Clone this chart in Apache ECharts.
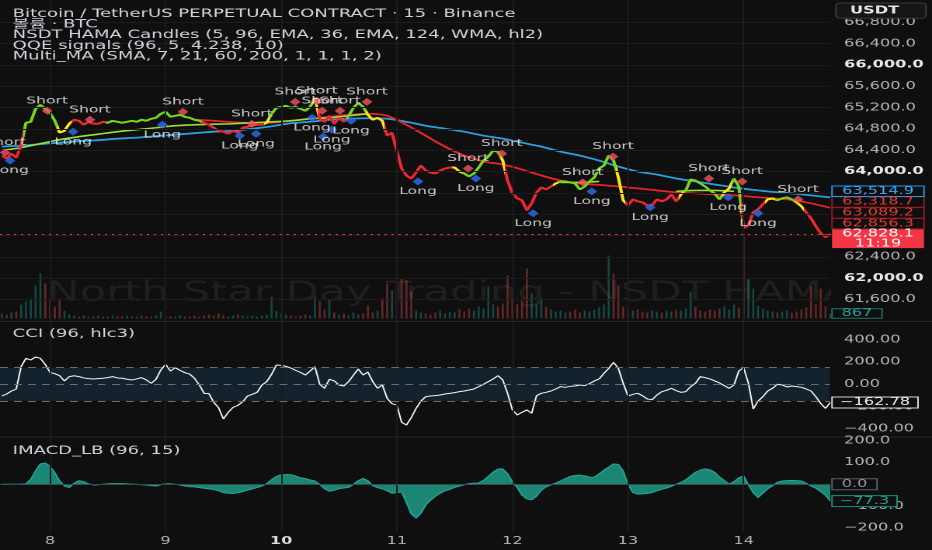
<!DOCTYPE html>
<html><head><meta charset="utf-8">
<script src="https://cdn.jsdelivr.net/npm/echarts@6/dist/echarts.min.js"></script>
<style>
html,body{margin:0;padding:0;background:#0f0f0f;overflow:hidden;width:932px;height:550px;}
#chart{width:600px;height:550px;transform:scaleX(1.553333);transform-origin:0 0;}
</style></head><body><div id="chart"></div>
<script>
// ---------------- data ----------------
// hourly samples, hours relative to day 8 00:00
const startHour = -10;
const price = [
64299,64243,64336,64261,64485,64915,64933,65176,65251,65176,
65101,64952,64728,64765,64896,64971,64952,64877,64933,64896,
64896,64933,64915,64952,64933,64915,64933,64952,64933,64971,
64952,64989,65008,65083,65120,65027,65045,65064,65027,65008,
64971,64952,64915,64877,64821,64765,64747,64709,64765,64728,
64821,64840,64859,64877,64877,64915,65083,65195,65213,65232,
65195,65213,65176,65139,65213,65381,64989,64933,65045,64896,
65008,64933,65045,65195,65288,65213,65064,64971,65008,64952,
64672,64728,64392,64056,63925,63869,63981,64112,64019,63981,
63963,64019,64056,64075,64075,64000,63963,63907,63963,64075,
64205,64280,64392,64373,64205,63832,63589,63496,63459,63272,
63403,63608,63701,63664,63720,63776,63813,63813,63795,63776,
63664,63720,63813,63888,64056,64112,64299,64205,63888,63459,
63365,63477,63440,63421,63365,63365,63477,63440,63477,63571,
63440,63571,63645,63851,63832,63776,63720,63645,63589,63477,
63608,63683,63869,63720,62936,62992,63235,63291,63384,63477,
63496,63459,63496,63515,63477,63421,63347,63235,63123,62973,
62843,62768,62828.1];
// HAMA candle colour state runs (G green, Y yellow, R red), hourly
const hamaRuns = [['R',5],['G',7],['Y',3],['R',7],['G',20],['R',13],['Y',1],['G',9],['Y',1],['R',6],
['G',4],['Y',4],['R',14],['Y',2],['G',8],['Y',1],['R',10],['Y',1],['G',12],['Y',2],['R',11],['Y',1],
['G',8],['Y',2],['G',2],['R',5],['Y',2],['G',4],['Y',2],['R',6]];
const volume = [
870,690,1040,1210,2430,2950,3470,5720,7800,6070,
3470,2080,3470,1390,690,520,350,520,350,350,
520,350,350,520,350,350,520,350,350,520,
350,350,520,1210,520,350,350,520,350,350,
520,350,520,690,520,870,520,350,520,690,
520,350,520,350,520,690,3810,1390,870,690,
520,350,520,690,520,3810,2950,1560,3120,1040,
690,870,520,1040,690,870,2250,1040,1390,3470,
6070,4850,5550,6930,6590,4680,1390,1040,870,690,
1040,1390,870,1210,1040,1560,1210,1730,1390,2080,
1730,5550,2430,2080,2600,7450,3470,2430,3120,8670,
4330,2430,3470,2080,1560,1210,1390,1040,1210,1560,
1040,1390,1210,1560,1910,2430,10920,7800,5720,2080,
1730,1390,1560,1210,1040,1390,1210,1040,1390,1210,
1560,1390,1730,4680,2080,1390,1210,1560,1390,1730,
2080,1560,2430,1910,14730,6930,5200,2250,1730,1390,
1210,1040,1210,1390,1040,1210,1560,1910,5550,2430,
5200,2080,867];
const cci = [
-105,-87,-60,-42,158,233,218,245,233,179,
107,95,77,30,69,77,69,57,51,48,
51,54,60,69,57,54,45,39,48,60,
39,9,45,128,179,119,149,125,104,92,
54,-6,-81,-84,-162,-210,-311,-251,-207,-189,
-156,-105,-90,-72,-6,24,89,173,170,161,
146,125,107,83,119,158,0,-36,45,30,
-6,-15,24,83,137,83,110,24,-36,-6,
-126,-174,-186,-341,-365,-299,-216,-150,-111,-105,
-102,-96,-87,-81,-75,-66,-60,-51,-42,-21,
0,24,48,77,39,-81,-230,-275,-251,-230,
-260,-102,-81,-72,-60,-42,-21,-27,-18,-15,
-6,-12,6,30,48,98,143,197,143,9,
-105,-90,-81,-102,-132,-138,-96,-66,-54,-36,
-57,-72,-66,-21,9,69,60,48,30,12,
-12,-36,-6,119,149,9,-221,-150,-111,-60,
-36,0,-6,-24,-15,-21,-27,-42,-60,-111,
-171,-216,-162.78];
const imacd = [
0,0,0,0,1,2,23,61,94,98,
83,53,15,-8,-15,5,17,12,2,-3,
-2,0,2,3,3,3,2,0,0,-2,
-3,-6,-8,-2,3,2,0,-3,-8,-11,
-12,-15,-18,-21,-24,-30,-38,-41,-42,-39,
-33,-27,-21,-15,-8,3,21,36,44,45,
44,38,30,26,20,15,0,-21,-32,-27,
-20,-17,-14,0,17,27,17,-6,-15,-21,
-30,-41,-38,-35,-83,-136,-155,-133,-95,-73,
-55,-41,-30,-23,-14,-8,-2,3,5,6,
18,36,56,70,71,48,12,-15,-50,-67,
-71,-55,-27,-12,-2,5,15,26,36,41,
42,39,33,32,48,65,79,94,91,61,
0,-38,-45,-44,-42,-38,-30,-23,-17,-9,
0,9,21,38,55,65,71,67,55,33,
17,0,12,30,39,-3,-38,-61,-41,-21,
-6,9,15,17,18,17,15,5,-8,-18,
-33,-50,-77.3];
// moving averages, 4-hour samples from hour -10
const maStartHour = -10, maStep = 4;
const maSlow = [64467,64485,64513,64541,64569,64588,64616,64635,64663,64691,
64719,64747,64765,64803,64849,64906,64933,64971,64989,64999,
64989,64933,64859,64803,64747,64672,64616,64541,64467,64373,
64299,64205,64093,64000,63944,63869,63813,63757,63701,63655,
63617,63589,63552,63514.9];
const maMid = [null,null,null,null,null,null,null,null,null,null,
64971,64952,64924,64915,64915,64952,64989,65027,65064,65083,
65045,64877,64672,64467,64299,64187,64131,64037,63925,63832,
63776,63748,63720,63683,63645,63608,63589,63571,63552,63524,
63496,63468,63403,63318.7];
const maFast = [64392,64448,64523,64597,64653,64700,64747,64784,64821,64859,
64877,64887,64896,64915,64933,64952,64989,65008,65045,65083,
null,null,null,null,null,null,null,null,null,63795,
63795,63813,null,null,null,63627,63645,63645,63627,null,
null,null,null,null];
const otherMaLast = [63089.2, 62856.3];
const countdown = '11:19';
// QQE signals [hour, price]
const shortSignals = [[-9.3,64355],[-0.6,65139],[8.3,64971],[27.6,65120],[41.9,64896],[50.9,65307],
[55.4,65326],[56.5,65139],[60.2,65139],[65.8,65307],[86.8,64056],[93.8,64336],[110.6,63795],
[116.9,64280],[136.8,63869],[143.7,63813],[155.3,63477]];
const longSignals = [[-8.3,64205],[4.8,64747],[23.3,64877],[39.4,64672],[42.8,64709],[54.4,65008],
[56.7,64653],[58.5,64784],[62.5,64952],[76.4,63813],[88.4,63869],[100.3,63216],[112.5,63627],
[124.6,63328],[140.8,63515],[147.0,63216]];
// axes
const dayTicks = [0,24,48,72,96,120,144];
const dayLabels = ['8','9','10','11','12','13','14'];
const priceTicks = [61600,62000,62400,62800,63200,63600,64000,64400,64800,65200,65600,66000,66400,66800];
const cciTicks = [-400,-200,0,200,400];
const cciBand = [-150,150];
const imacdTicks = [-200,-100,0,100,200];
// texts
const legendLines = ['Bitcoin / TetherUS PERPETUAL CONTRACT · 15 · Binance','볼륨 · BTC',
'NSDT HAMA Candles (5, 96, EMA, 36, EMA, 124, WMA, hl2)','QQE signals (96, 5, 4.238, 10)',
'Multi_MA (SMA, 7, 21, 60, 200, 1, 1, 1, 2)'];
const cciTitle = 'CCI (96, hlc3)';
const imacdTitle = 'IMACD_LB (96, 15)';
const watermark = 'North Star Day Trading - NSDT HAMA';
const currency = 'USDT';

// ---------------- layout / style ----------------
const S = 932/600;
const px = v => v / S;
const FONT = '"DejaVu Sans", "Noto Sans CJK KR", sans-serif';
const BG = '#0f0f0f';
const AX = '#b2b5be';
const xMin = -10.38, xMax = 161.94;
const plotRight = 600 - px(830);
const series2 = (start, step, arr) => arr.map((v,i) => [start + i*step, v]);
const fmtPrice = v => v.toLocaleString('en-US',{minimumFractionDigits:1,maximumFractionDigits:1});
const minus = s => s.replace('-', '\u2212');

const trendColors = {G:'#74d61f', Y:'#ffe61a', R:'#ef2731'};
const pieces = []; let idx = 0;
hamaRuns.forEach(([s,n]) => {
  pieces.push({gte: startHour+idx-0.5, lt: startHour+idx+n-0.5, color: trendColors[s]});
  idx += n;
});

const volData = volume.map((v,i) => ({value:[startHour+i, v],
  itemStyle:{color: (i===0 || price[i] >= price[i-1]) ? 'rgba(38,166,154,0.38)' : 'rgba(239,83,80,0.38)'}}));

const gl = {color:'#1c1c1c', width:1, type:'solid'};
const mkGrid = (xi, yi, extra) => ({type:'line', xAxisIndex:xi, yAxisIndex:yi, data:[], z:0, silent:true,
  markLine:{silent:true, symbol:'none', animation:false, label:{show:false}, lineStyle:gl,
    data: dayTicks.map(h => ({xAxis:h})).concat(extra||[])}});

const axisCommon = (gi, show) => ({type:'value', gridIndex:gi, min:xMin, max:xMax, axisLine:{show:false},
  axisTick:{show:false}, splitLine:{show:false},
  axisLabel: show ? {show:true, customValues: dayTicks, margin:4.3, color:AX, fontSize:10.4, fontFamily:FONT,
    formatter: v => { const l = dayLabels[dayTicks.indexOf(v)]; return l === '10' ? '{b|'+l+'}' : l; },
    rich:{b:{fontWeight:'bold', color:'#d8dbe2', fontSize:10.4, fontFamily:FONT}}} : {show:false}});

const yLab = (ticks, fmt, rich) => ({customValues: ticks, margin: px(844)-px(830), color:AX, fontSize:10.4,
  fontFamily:FONT, formatter: fmt, rich: rich || {}});

const priceGridSeries = mkGrid(0,0, priceTicks.map(v => ({yAxis:v})));
const cciGridSeries = mkGrid(2,2, []);
cciGridSeries.markArea = {silent:true, itemStyle:{color:'#13222c'}, data:[[{yAxis:cciBand[0]},{yAxis:cciBand[1]}]]};
const cciDash = {type:'line', xAxisIndex:2, yAxisIndex:2, data:[], z:1, silent:true,
  markLine:{silent:true, symbol:'none', animation:false, label:{show:false},
    lineStyle:{color:'#6a6d78', type:[5,4], width:1}, data:[{yAxis:cciBand[1]},{yAxis:0},{yAxis:cciBand[0]}]}};
const imacdGridSeries = mkGrid(3,3, []);
const imacdZero = {type:'line', xAxisIndex:3, yAxisIndex:3, data:[], z:1, silent:true,
  markLine:{silent:true, symbol:'none', animation:false, label:{show:false},
    lineStyle:{color:'#2f4f4a', width:1, type:'solid'}, data:[{yAxis:0}]}};

const PRICE_IDX = 5;
const option = {
  backgroundColor: BG,
  animation: false,
  title: {text: legendLines.join('\n'), left: px(12.7), top: 8.4, padding: 0,
    textStyle:{fontSize:11.6, lineHeight:10.7, color:'#d1d4dc', fontWeight:'normal', fontFamily:FONT}},
  grid: [
    {left:0, right:plotRight, top:0, height:321},
    {left:0, right:plotRight, top:220.5, height:98},
    {left:0, right:plotRight, top:322, height:115},
    {left:0, right:plotRight, top:437, height:95}
  ],
  xAxis: [axisCommon(0,false), axisCommon(1,false), axisCommon(2,false), axisCommon(3,true)],
  yAxis: [
    {type:'value', gridIndex:0, position:'right', min:61195, max:67218, z:10,
      axisLine:{show:false}, axisTick:{show:false}, splitLine:{show:false},
      axisLabel: yLab(priceTicks, v => v % 2000 === 0 ? '{b|'+fmtPrice(v)+'}' : fmtPrice(v),
        {b:{fontWeight:'bold', color:'#e6e8ee', fontSize:10.4, fontFamily:FONT}})},
    {type:'value', gridIndex:1, min:0, max:17000, show:false},
    {type:'value', gridIndex:2, position:'right', min:-472.6, max:558.7, z:10,
      axisLine:{show:false}, axisTick:{show:false}, splitLine:{show:false},
      axisLabel: yLab(cciTicks, v => minus(v.toFixed(2)))},
    {type:'value', gridIndex:3, position:'right', min:-218.8, max:217, z:10,
      axisLine:{show:false}, axisTick:{show:false}, splitLine:{show:false},
      axisLabel: yLab(imacdTicks, v => minus(v.toFixed(1)))}
  ],
  visualMap: {type:'piecewise', show:false, seriesIndex: PRICE_IDX, dimension:0, pieces: pieces},
  series: [
    priceGridSeries,                                   //0
    {type:'bar', xAxisIndex:1, yAxisIndex:1, data: volData, barWidth:1.3, z:1, silent:true}, //1
    {type:'line', xAxisIndex:0, yAxisIndex:0, data: series2(maStartHour, maStep, maSlow), showSymbol:false,
      lineStyle:{color:'#2a9fe0', width:1.8}, z:3, smooth:0.3}, //2
    {type:'line', xAxisIndex:0, yAxisIndex:0, data: series2(maStartHour, maStep, maMid), showSymbol:false,
      lineStyle:{color:'#e5232b', width:1.8}, z:3, smooth:0.3}, //3
    {type:'line', xAxisIndex:0, yAxisIndex:0, data: series2(maStartHour, maStep, maFast), showSymbol:false,
      connectNulls:false, lineStyle:{color:'#9be03a', width:1.6}, z:3, smooth:0.3}, //4
    {type:'line', xAxisIndex:0, yAxisIndex:0, data: series2(startHour, 1, price), showSymbol:false,
      lineStyle:{width:2}, z:4,
      markLine:{silent:true, symbol:'none', animation:false, label:{show:false},
        lineStyle:{color:'#f23645', type:[1.5,3], width:1}, data:[{yAxis: price[price.length-1]}]}}, //5
    {type:'scatter', xAxisIndex:0, yAxisIndex:0, data: shortSignals, symbol:'diamond', symbolSize:[7,8],
      itemStyle:{color:'#f3525d'}, z:6,
      label:{show:true, position:'top', distance:1, formatter:'Short', color:'#f2f2f2', fontSize:10, fontFamily:FONT}}, //6
    {type:'scatter', xAxisIndex:0, yAxisIndex:0, data: longSignals, symbol:'diamond', symbolSize:[7,8],
      itemStyle:{color:'#2f6cf0'}, z:6,
      label:{show:true, position:'bottom', distance:1, formatter:'Long', color:'#f2f2f2', fontSize:10, fontFamily:FONT}}, //7
    cciGridSeries, cciDash,
    {type:'line', xAxisIndex:2, yAxisIndex:2, data: series2(startHour, 1, cci), showSymbol:false,
      lineStyle:{color:'#f4f4f4', width:1}, z:3},
    imacdGridSeries, imacdZero,
    {type:'line', xAxisIndex:3, yAxisIndex:3, data: series2(startHour, 1, imacd), showSymbol:false,
      lineStyle:{color:'#26a69a', width:1}, areaStyle:{color:'#1d9380', opacity:0.9, origin:0}, z:3}
  ]
};

const chart = echarts.init(document.getElementById('chart'), null, {renderer:'canvas', devicePixelRatio:2});
chart.setOption(option);

// ---------------- overlay texts / value tags ----------------
const baseGraphics = [
  {type:'line', shape:{x1:0,y1:321.5,x2:600,y2:321.5}, style:{stroke:'#262626', lineWidth:1}, z:5, silent:true},
  {type:'line', shape:{x1:0,y1:437,x2:600,y2:437}, style:{stroke:'#262626', lineWidth:1}, z:5, silent:true},
  {type:'text', x:px(47), y:293, z:0, silent:true,
    style:{text: watermark, fontSize:28, fontFamily:FONT, fill:'rgba(255,255,255,0.07)', verticalAlign:'middle'}},
  {type:'rect', shape:{x:px(831), y:262, width:600-px(831), height:58}, style:{fill:BG}, z:1, silent:true},
  {type:'text', x:px(12.7), y:334, z:5, style:{text: cciTitle, fontSize:11.6, fontFamily:FONT, fill:'#d1d4dc', verticalAlign:'middle'}},
  {type:'text', x:px(12.7), y:451, z:5, style:{text: imacdTitle, fontSize:11.6, fontFamily:FONT, fill:'#d1d4dc', verticalAlign:'middle'}},
  {type:'group', x:px(836), y:3, z:20, children:[
    {type:'rect', shape:{x:0,y:0,width:px(90),height:15.3,r:3}, style:{fill:'#161616', stroke:'#3a3a3a', lineWidth:1}, z:20},
    {type:'text', x:px(14), y:7.8, z:21, style:{text: currency, fontSize:10.4, fontWeight:'bold', fontFamily:FONT, fill:'#e6e6e6', verticalAlign:'middle'}}
  ]}
];

function tag(yTop, w, h, lines, st) {
  const children = [{type:'rect', shape:{x:0, y:0, width:w, height:h}, style:{fill:st.fill, stroke:st.stroke||null, lineWidth:1}, z:20}];
  lines.forEach((t, i) => children.push({type:'text', x:w/2, y: (lines.length===1 ? h/2 : 4.8 + i*9.6), z:21,
    style:{text:t, fontSize:10.4, fontFamily:FONT, fill:st.color, align:'center', verticalAlign:'middle'}}));
  return {type:'group', x:px(832), y:yTop, z:20, children};
}
const yPix = (axis, v) => chart.convertToPixel({yAxisIndex:axis}, v);
const tags = [];
const lastPrice = price[price.length-1];
// main pane tags, stacked upwards from the last-price tag to avoid overlap
const pTop = yPix(0, lastPrice) - 4.8;
tags.push(tag(pTop, px(92), 19, [fmtPrice(lastPrice), countdown], {fill:'#f23645', color:'#ffffff'}));
const mainTags = [
  {v: maSlow[maSlow.length-1], st:{fill:BG, stroke:'#2196f3', color:'#3fa9f5'}},
  {v: maMid[maMid.length-1], st:{fill:BG, stroke:'#8e1d25', color:'#e53935'}},
  {v: otherMaLast[0], st:{fill:BG, stroke:'#8e1d25', color:'#e53935'}},
  {v: otherMaLast[1], st:{fill:BG, stroke:'#8e1d25', color:'#e53935'}}
].map(t => Object.assign(t, {y: yPix(0, t.v)})).sort((a,b) => b.y - a.y);
let limit = pTop - 0.3;
const TH = 10.5;
mainTags.forEach(t => {
  const c = Math.min(t.y, limit - TH/2);
  tags.push(tag(c - TH/2, px(92), TH, [fmtPrice(t.v)], t.st));
  limit = c - TH/2 - 0.3;
});
const lastVol = volume[volume.length-1];
tags.push(tag(yPix(1, lastVol) - 4.8, px(50), 9.6, [String(lastVol)], {fill:BG, stroke:'#1d7266', color:'#26a69a'}));
const lastCci = cci[cci.length-1];
tags.push(tag(yPix(2, lastCci) - 5.5, px(86), 11, [minus(lastCci.toFixed(2))], {fill:BG, stroke:'#d1d4dc', color:'#eeeeee'}));
tags.push(tag(yPix(3, 0) - 5.5, px(45), 11, ['0.0'], {fill:BG, stroke:'#5d606b', color:'#9598a1'}));
const lastMacd = imacd[imacd.length-1];
tags.push(tag(yPix(3, lastMacd) - 5.5, px(65), 11, [minus(lastMacd.toFixed(1))], {fill:BG, stroke:'#1d8f7d', color:'#26a69a'}));

chart.setOption({graphic: {elements: baseGraphics.concat(tags)}});
</script></body></html>
